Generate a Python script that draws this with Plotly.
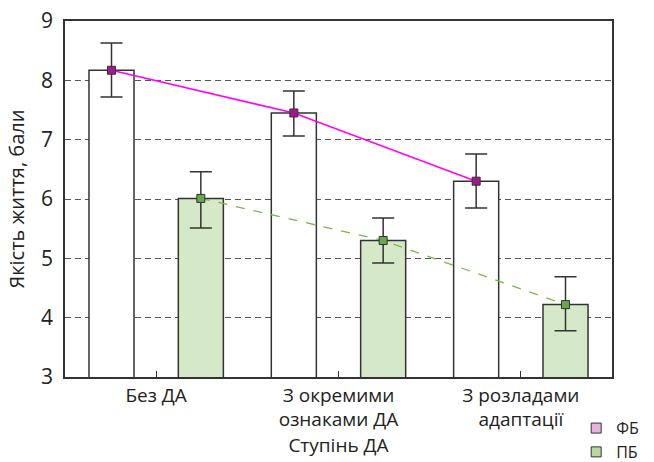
import plotly.graph_objects as go

categories = ["Без ДА", "З окремими<br>ознаками ДА", "З розладами<br>адаптації"]
fb_values = [8.17, 7.45, 6.30]
fb_err_plus = [0.46, 0.37, 0.46]
fb_err_minus = [0.45, 0.39, 0.45]
pb_values = [6.01, 5.30, 4.22]
pb_err_plus = [0.45, 0.38, 0.47]
pb_err_minus = [0.50, 0.38, 0.44]
series_names = ["ФБ", "ПБ"]
y_ticks = [3, 4, 5, 6, 7, 8, 9]

idx = list(range(len(categories)))
off = 0.245
bw = 0.247
x_fb = [i - off for i in idx]
x_pb = [i + off for i in idx]

font = "Open Sans"
dark = "#333333"

fig = go.Figure()
fig.add_trace(go.Bar(x=x_fb, y=fb_values, width=bw, marker=dict(color="white", line=dict(color=dark, width=1.5)),
                     showlegend=False, hoverinfo="skip"))
fig.add_trace(go.Bar(x=x_pb, y=pb_values, width=bw, marker=dict(color="#d5e8c8", line=dict(color=dark, width=1.5)),
                     showlegend=False, hoverinfo="skip"))

fig.add_trace(go.Scatter(x=x_fb, y=fb_values, mode="lines+markers",
                         line=dict(color="#ff00ff", width=1.5),
                         marker=dict(symbol="square", size=8, color="#a3178f", line=dict(color=dark, width=1)),
                         error_y=dict(type="data", array=fb_err_plus, arrayminus=fb_err_minus, color=dark, thickness=1.5, width=11),
                         showlegend=False))
fig.add_trace(go.Scatter(x=x_pb, y=pb_values, mode="lines+markers",
                         line=dict(color="#7ab648", width=1.3, dash="dash"),
                         marker=dict(symbol="square", size=8, color="#6aa84f", line=dict(color=dark, width=1)),
                         error_y=dict(type="data", array=pb_err_plus, arrayminus=pb_err_minus, color=dark, thickness=1.5, width=11),
                         showlegend=False))

# legend entries
fig.add_trace(go.Scatter(x=[None], y=[None], mode="markers", name=series_names[0],
                         marker=dict(symbol="square", size=10, color="#e6b3e0", line=dict(color=dark, width=1))))
fig.add_trace(go.Scatter(x=[None], y=[None], mode="markers", name=series_names[1],
                         marker=dict(symbol="square", size=10, color="#b7d9a0", line=dict(color=dark, width=1))))

fig.update_layout(
    width=654, height=462,
    margin=dict(l=65, r=42, t=21, b=85, autoexpand=False),
    plot_bgcolor="white", paper_bgcolor="white",
    font=dict(family=font, size=19, color="#222222"),
    barmode="overlay",
    legend=dict(x=0.881, y=0.110, xref="container", yref="container", xanchor="left", yanchor="top",
                font=dict(size=16), itemwidth=30, tracegroupgap=0, bgcolor="rgba(0,0,0,0)"),
)
fig.update_xaxes(range=[-0.5, 2.5], tickvals=idx, ticktext=categories, automargin=False,
                 showline=True, linecolor=dark, linewidth=1.5, mirror=True,
                 ticks="inside", ticklen=6, tickcolor=dark, showgrid=False, zeroline=False,
                 tickfont=dict(size=19),
                 title=dict(text="Ступінь ДА", standoff=0, font=dict(size=19)))
fig.update_yaxes(range=[3, 9], tickvals=y_ticks, automargin=False,
                 showline=True, linecolor=dark, linewidth=1.5, mirror=True,
                 showgrid=True, gridcolor="#555555", gridwidth=1.2, griddash="6px,4px",
                 zeroline=False, ticks="", tickfont=dict(size=21), ticklabelstandoff=6,
                 ticklabeloverflow="allow",
                 title=dict(text="Якість життя, бали", font=dict(size=20), standoff=11))

fig.write_html("out.html", config={"displayModeBar": False},
               post_script="document.body.style.margin='0';")
